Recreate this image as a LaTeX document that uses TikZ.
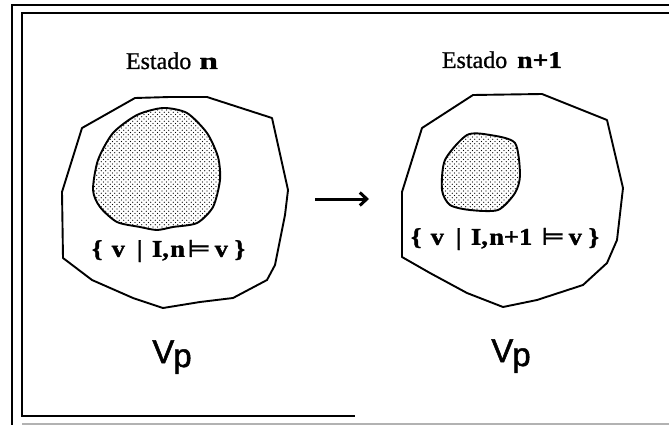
\documentclass[tikz,border=0pt]{standalone}
\usepackage{fontspec}
\setmainfont{Liberation Serif}
\newfontface\vpfont{Liberation Sans}[FakeBold=1.5]
\newfontface\setfont{Liberation Serif Bold}[FakeBold=1.2]
\newfontface\symfont{DejaVu Sans}[FakeBold=1.5]
\newfontface\titlefont{Liberation Serif}[FakeBold=0.8]
\newfontface\titlebold{Liberation Serif Bold}[FakeBold=1.2]
\usetikzlibrary{patterns,arrows.meta}
\pgfdeclarepatternformonly{sparsedots}{\pgfpoint{-1pt}{-1pt}}{\pgfpoint{3.5pt}{3.5pt}}{\pgfpoint{4.5pt}{4.5pt}}{%
  \pgfpathcircle{\pgfpoint{0pt}{0pt}}{0.65pt}%
  \pgfpathcircle{\pgfpoint{2.25pt}{2.25pt}}{0.65pt}%
  \pgfusepath{fill}}
\begin{document}
\begin{tikzpicture}[x=1pt,y=-1pt,
  frameline/.style={line width=1.6pt},
  region/.style={line width=1.9pt, line join=round},
  blob/.style={line width=1.9pt, line join=round, pattern=sparsedots},
  title/.style={font=\fontsize{24}{27}\titlefont, inner sep=0pt, anchor=base},
  settext/.style={font=\setfont, inner sep=0pt},
  vptext/.style={font=\fontsize{33}{36}\vpfont, inner sep=0pt, anchor=base}]
\useasboundingbox (0,0) rectangle (669,425);
% frame
\draw[frameline] (669,5) -- (12,5) -- (12,425);
\draw[frameline] (669,13) -- (22,13) -- (22,416) -- (355,416);
\draw[gray!60, line width=1.2pt] (22,424) -- (669,424);
% left panel
\draw[region] (82,128) -- (135,98) -- (170,97) -- (207,97) -- (272,118) -- (288,190)
  -- (285,215) -- (275,265) -- (267,280) -- (233,298) -- (200,302) -- (163,308)
  -- (133,298) -- (92,280) -- (63,258) -- (62,192) -- cycle;
\draw[blob] plot[smooth cycle, tension=0.45] coordinates {(163,108) (137,115) (113,133) (98,160) (93,190) (100,207) (117,222) (140,227) (157,230) (173,227) (197,223) (213,207) (220,180) (218,157) (207,133) (187,113)};
\node[title] (t1) at (172,69) {Estado\hspace{8pt}{\titlebold\scalebox{1.4}[1]{n}}};
\node[settext] (s1) at (168.5,251) {\resizebox*{153pt}{22pt}{\{\hspace{0.35em}v\hspace{0.45em}|\hspace{0.35em}I,\kern0.05em n\kern0.1em{\symfont ⊨}\kern0.15em v\hspace{0.25em}\}}};
\node[vptext] (v1) at (172,363) {V\kern-1pt\raisebox{-4pt}{p}};
% arrow
\coordinate (a1) at (315,199);
\coordinate (a2) at (369,199);
\draw[line width=3pt, -{Straight Barb[length=7pt,width=13pt,line width=3pt]}] (a1) -- (a2);
% right panel
\draw[region] (422,128) -- (473,95) -- (542,94) -- (607,120) -- (623,188) -- (617,240)
  -- (607,263) -- (583,285) -- (537,300) -- (503,307) -- (467,293) -- (430,273)
  -- (402,257) -- (402,192) -- cycle;
\draw[blob] plot[smooth cycle, tension=0.45] coordinates {(467,135) (445,160) (442,190) (450,205) (470,210) (498,210) (515,193) (520,175) (515,143) (490,135)};
\node[title] (t2) at (502,68) {Estado\hspace{10pt}{\titlebold\scalebox{1.15}[1]{n+1}}};
\node[settext] (s2) at (505,239) {\resizebox*{188pt}{22pt}{\{\hspace{0.35em}v\hspace{0.45em}|\hspace{0.35em}I,\kern0.05em n+1\hspace{0.35em}{\symfont ⊨}\kern0.15em v\hspace{0.25em}\}}};
\node[vptext] (v2) at (511,362) {V\kern-1pt\raisebox{-4pt}{p}};
\end{tikzpicture}
\end{document}
